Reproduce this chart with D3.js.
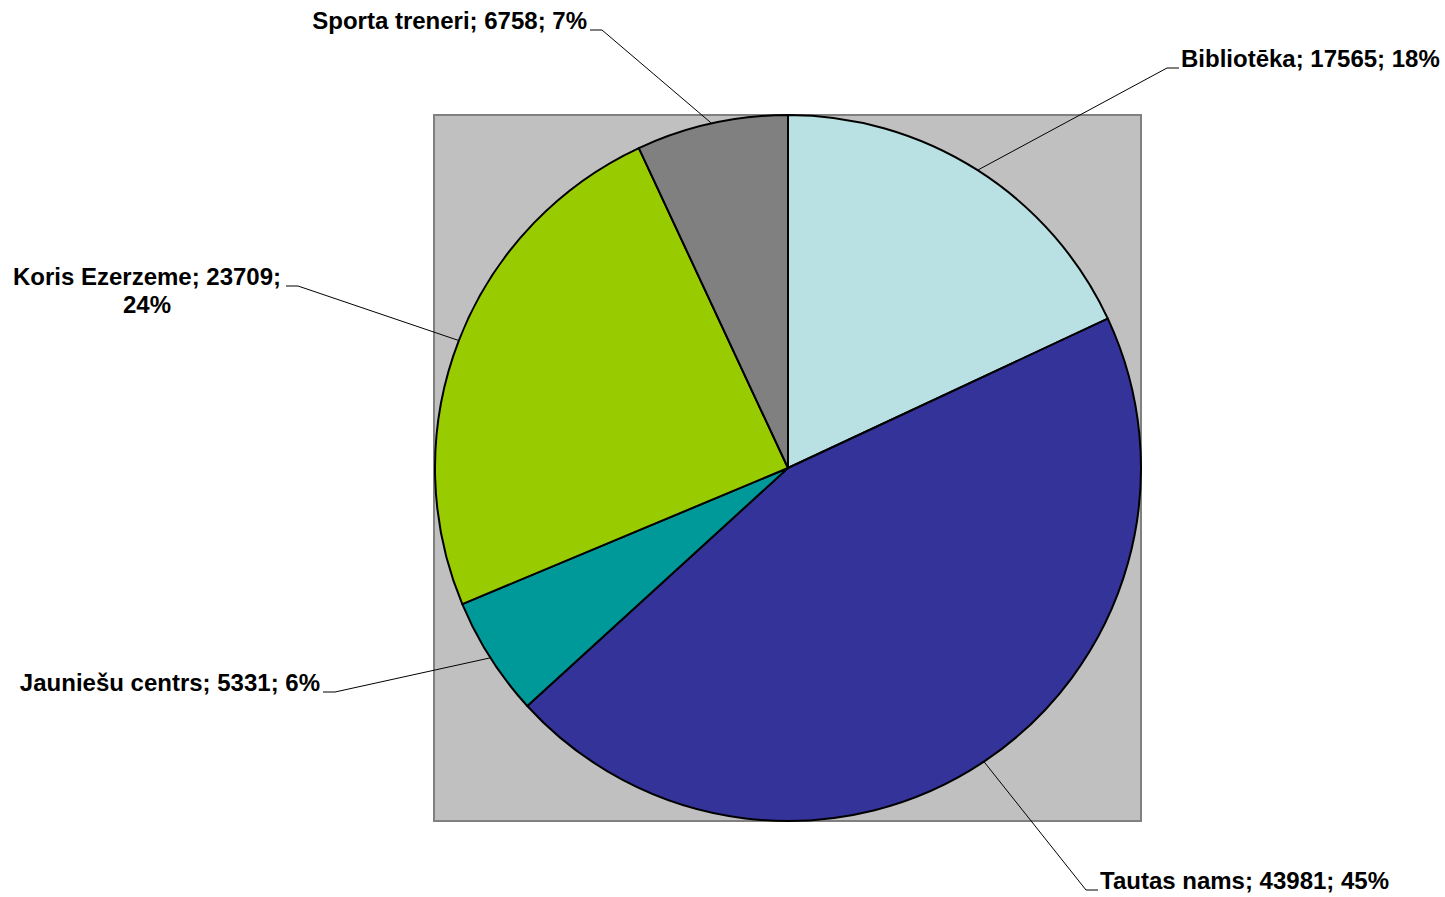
<!DOCTYPE html>
<html>
<head>
<meta charset="utf-8">
<script src="https://cdn.jsdelivr.net/npm/d3@7"></script>
<style>
  html, body { margin: 0; padding: 0; background: #ffffff; }
  svg { display: block; }
  text { font-family: "Liberation Sans", Arial, sans-serif; font-weight: bold; font-size: 24px; fill: #000; }
</style>
</head>
<body>
<svg id="chart" width="1445" height="897"></svg>
<script>
// ----- Data -----
const categories = ["Bibliotēka", "Tautas nams", "Jauniešu centrs", "Koris Ezerzeme", "Sporta treneri"];
const values     = [17565, 43981, 5331, 23709, 6758];
const percents   = ["18%", "45%", "6%", "24%", "7%"];
const colors     = ["#b9e0e3", "#333399", "#009999", "#99cc00", "#808080"];

// ----- Layout -----
const W = 1445, H = 897;
const CX = 788, CY = 468, R = 353;
const PLOT = { x: 434, y: 115, w: 707, h: 706 };

// label placement: anchor point of the leader elbow, text side
const labelLayout = [
  { ex: 1167, ey: 68,  side: "right" },
  { ex: 1086, ey: 890, side: "right" },
  { ex: 335,  ey: 692, side: "left" },
  { ex: 298,  ey: 286, side: "left", wrap: true },
  { ex: 602,  ey: 30,  side: "left" }
];

const svg = d3.select("#chart");

// plot area background
svg.append("rect")
  .attr("x", PLOT.x).attr("y", PLOT.y)
  .attr("width", PLOT.w).attr("height", PLOT.h)
  .attr("fill", "#c0c0c0")
  .attr("stroke", "#808080")
  .attr("stroke-width", 2);

const pie = d3.pie().sort(null).value(d => d)(values);
const arc = d3.arc().innerRadius(0).outerRadius(R);

const g = svg.append("g").attr("transform", `translate(${CX},${CY})`);

g.selectAll("path.slice")
  .data(pie)
  .join("path")
  .attr("class", "slice")
  .attr("d", arc)
  .attr("fill", (d, i) => colors[i])
  .attr("stroke", "#000")
  .attr("stroke-width", 2)
  .attr("stroke-linejoin", "round");

// ----- Leader lines and labels -----
pie.forEach((d, i) => {
  const mid = (d.startAngle + d.endAngle) / 2;
  const px = CX + R * Math.sin(mid);
  const py = CY - R * Math.cos(mid);
  const L = labelLayout[i];
  const hx = L.side === "right" ? L.ex + 12 : L.ex - 12;

  svg.append("polyline")
    .attr("points", `${px},${py} ${L.ex},${L.ey} ${hx},${L.ey}`)
    .attr("fill", "none")
    .attr("stroke", "#000")
    .attr("stroke-width", 1);

  const txt = `${categories[i]}; ${values[i]}; ${percents[i]}`;
  if (L.wrap) {
    const t = svg.append("text")
      .attr("text-anchor", "middle")
      .attr("x", 147);
    t.append("tspan").attr("x", 147).attr("y", L.ey - 1)
      .text(`${categories[i]}; ${values[i]};`);
    t.append("tspan").attr("x", 147).attr("y", L.ey + 27)
      .text(percents[i]);
  } else {
    svg.append("text")
      .attr("text-anchor", L.side === "right" ? "start" : "end")
      .attr("x", L.side === "right" ? hx + 2 : hx - 3)
      .attr("y", L.ey - 1)
      .text(txt);
  }
});
</script>
</body>
</html>
